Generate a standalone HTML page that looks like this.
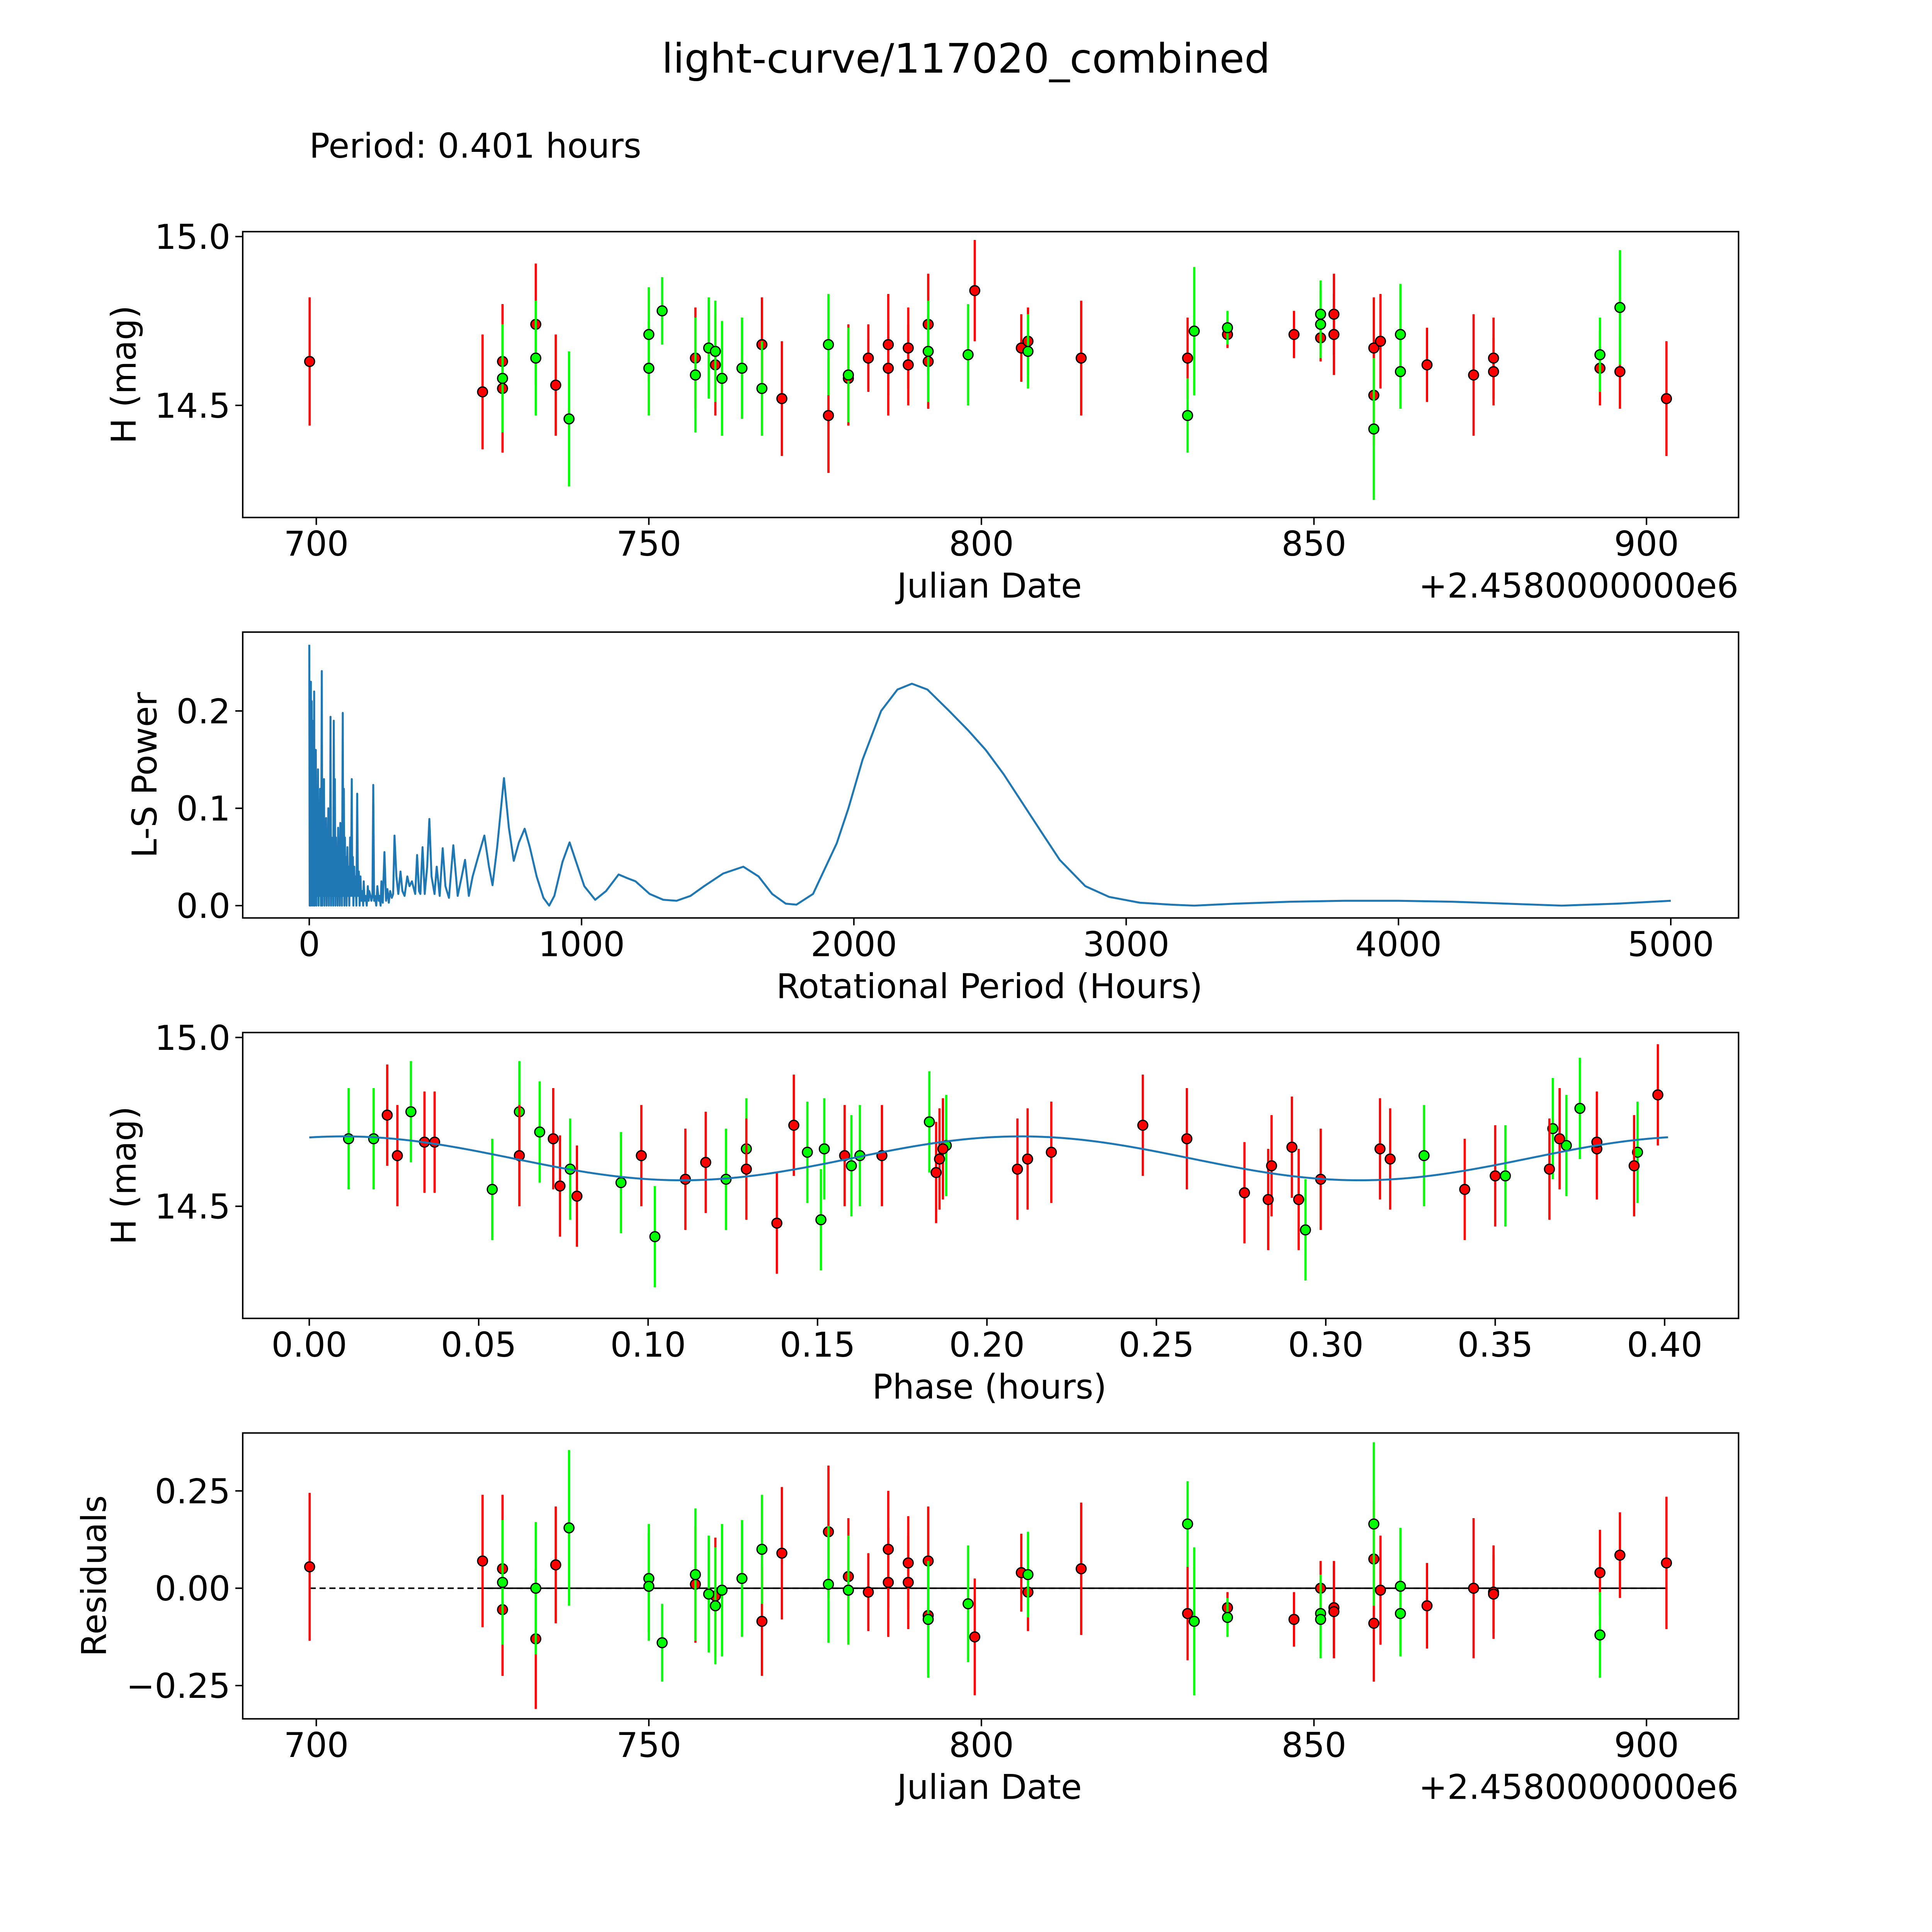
<!DOCTYPE html>
<html><head><meta charset="utf-8"><style>
html,body{margin:0;padding:0;background:#fff;width:100vw;height:100vh;overflow:hidden}
svg{display:block;position:absolute;left:0;top:0;width:100vw;height:100vh}
text{font-family:"DejaVu Sans","Liberation Sans",sans-serif;fill:#000}
</style></head><body>
<svg id="chart" viewBox="0 0 1568 1568" preserveAspectRatio="none" xmlns="http://www.w3.org/2000/svg">
<rect width="1568" height="1568" fill="#fff"/>
<text x="784" y="59" font-size="33" text-anchor="middle">light-curve/117020_combined</text>
<text x="251" y="128" font-size="27.6">Period: 0.401 hours</text>
</svg>
<script>
// ---- data: light curve (Julian date offset, magnitude, error) ----
const redJD  = [699,725,728,728,733,736,757,760,767,770,777,780,780,783,786,786,789,789,792,792,799,806,807,815,831,837,847,851,853,853,859,859,860,867,874,877,877,893,896,903];
const redMag = [14.63,14.54,14.55,14.63,14.74,14.56,14.64,14.62,14.68,14.52,14.47,14.59,14.58,14.64,14.68,14.61,14.62,14.67,14.63,14.74,14.84,14.67,14.69,14.64,14.64,14.71,14.71,14.70,14.71,14.77,14.53,14.67,14.69,14.62,14.59,14.64,14.60,14.61,14.60,14.52];
const redErr = [0.19,0.17,0.19,0.17,0.18,0.15,0.15,0.15,0.14,0.17,0.17,0.15,0.14,0.1,0.15,0.14,0.12,0.12,0.14,0.15,0.15,0.1,0.1,0.17,0.12,0.04,0.07,0.07,0.12,0.12,0.15,0.15,0.14,0.11,0.18,0.12,0.1,0.11,0.11,0.17];
const grnJD  = [728,733,738,750,750,752,757,759,760,761,764,767,777,780,792,798,807,831,832,837,851,851,859,863,863,893,896];
const grnMag = [14.58,14.64,14.46,14.71,14.61,14.78,14.59,14.67,14.66,14.58,14.61,14.55,14.68,14.59,14.66,14.65,14.66,14.47,14.72,14.73,14.77,14.74,14.43,14.71,14.60,14.65,14.79];
const grnErr = [0.16,0.17,0.2,0.14,0.14,0.1,0.17,0.15,0.15,0.17,0.15,0.14,0.15,0.14,0.15,0.15,0.11,0.11,0.19,0.05,0.1,0.1,0.21,0.15,0.11,0.11,0.17];
// ---- data: phase-folded ----
const grnPhase = [0.0116,0.019,0.030,0.054,0.062,0.068,0.077,0.092,0.102,0.123,0.129,0.147,0.151,0.152,0.160,0.1625,0.183,0.188,0.294,0.329,0.353,0.367,0.371,0.375,0.392];
const grnPMag  = [14.70,14.70,14.78,14.55,14.78,14.72,14.61,14.57,14.41,14.58,14.67,14.66,14.46,14.67,14.62,14.65,14.75,14.68,14.43,14.65,14.59,14.73,14.68,14.79,14.66];
const redPhase = [0.023,0.026,0.034,0.037,0.062,0.072,0.074,0.079,0.098,0.111,0.117,0.129,0.138,0.143,0.158,0.169,0.185,0.186,0.187,0.209,0.212,0.219,0.246,0.259,0.276,0.283,0.284,0.290,0.292,0.2985,0.316,0.319,0.341,0.350,0.366,0.369,0.380,0.380,0.391,0.398];
const redPMag  = [14.77,14.65,14.69,14.69,14.65,14.70,14.56,14.53,14.65,14.58,14.63,14.61,14.45,14.74,14.65,14.65,14.60,14.64,14.67,14.61,14.64,14.66,14.74,14.70,14.54,14.52,14.62,14.675,14.52,14.58,14.67,14.64,14.55,14.59,14.61,14.70,14.67,14.69,14.62,14.83];
const modelMean = 14.642, modelAmp = 0.065, modelPeak = 0.01, modelHalfPeriod = 0.2;
// ---- data: residuals ----
const redRes = [0.055,0.07,0.05,-0.055,-0.13,0.06,0.01,-0.02,-0.085,0.09,0.145,0.03,-0.005,-0.01,0.10,0.015,0.065,0.015,0.07,-0.07,-0.125,0.04,-0.01,0.05,-0.065,-0.05,-0.08,0.0,-0.05,-0.06,0.075,-0.09,-0.005,-0.045,0.0,-0.01,-0.015,0.04,0.085,0.065];
const grnRes = [0.015,0.0,0.155,0.025,0.005,-0.14,0.035,-0.015,-0.045,-0.005,0.025,0.10,0.01,-0.005,-0.08,-0.04,0.035,0.165,-0.085,-0.075,-0.065,-0.08,0.165,0.005,-0.065,-0.12];
// ---- data: periodogram as [period hours, power] ----
const lsNoise = [[0,0.268],[1.5,0],[3,0.2],[4.5,0],[6,0.23],[7.5,0.01],[9,0.21],[10.5,0],[12,0.19],[13.5,0.02],[15,0.18],[16.5,0],[18,0.22],[19.5,0],[21,0.15],[22.5,0.01],[24,0.16],[26,0],[28,0.12],[30,0.01],[32,0.14],[34,0],[36,0.1],[38,0.01],[40,0.12],[43,0],[46,0.241],[48,0],[50,0.11],[52,0.01],[54,0.13],[56,0],[58,0.08],[60,0.01],[62,0.09],[64,0],[66,0.07],[68,0.01],[70,0.1],[72,0],[74,0.09],[76,0.01],[78,0.194],[80,0],[82,0.07],[84,0.01],[86,0.06],[88,0],[90,0.19],[92,0.01],[94,0.13],[96,0],[98,0.07],[100,0.01],[102,0.05],[104,0],[106,0.08],[108,0.01],[110,0.05],[112,0],[114,0.085],[116,0.01],[118,0.07],[120,0],[123,0.198],[125,0.01],[127,0.12],[129,0],[131,0.07],[133,0.01],[135,0.05],[137,0],[140,0.06],[142,0.01],[145,0.04],[147,0],[150,0.07],[153,0.01],[156,0.13],[158,0.01],[160,0.05],[162,0],[165,0.04],[167,0.01],[170,0.03],[173,0],[176,0.115],[179,0.01],[182,0.035],[185,0],[188,0.03],[191,0.005],[195,0.015],[198,0],[200,0.025],[203,0.005],[207,0.01],[211,0],[215,0.02],[218,0.005],[220,0.015],[225,0.01],[228,0.005],[232,0.01],[235,0.124],[238,0.005],[241,0.01],[246,0],[250,0.02],[255,0.005],[258,0.01],[262,0],[265,0.025],[270,0.003],[276,0.055],[282,0.005],[287,0.017],[292,0.003],[297,0.015],[303,0.008],[308,0.012]];
const lsSmooth = [[313,0.072],[320,0.03],[327,0.012],[335,0.035],[342,0.015],[350,0.01],[360,0.03],[368,0.02],[377,0.025],[389,0.012],[396,0.052],[403,0.015],[408,0.012],[416,0.06],[424,0.012],[433,0.04],[441,0.089],[449,0.03],[460,0.012],[468,0.04],[479,0.01],[490,0.059],[500,0.02],[513,0.008],[529,0.062],[545,0.01],[560,0.03],[572,0.047],[586,0.01],[600,0.03],[620,0.05],[643,0.072],[660,0.04],[673,0.021],[690,0.06],[715,0.131],[733,0.08],[751,0.046],[770,0.065],[791,0.079],[810,0.06],[835,0.03],[860,0.008],[881,0.0],[900,0.01],[930,0.045],[956,0.065],[980,0.045],[1010,0.02],[1050,0.006],[1090,0.015],[1136,0.032],[1170,0.028],[1198,0.025],[1250,0.012],[1300,0.006],[1349,0.005],[1400,0.01],[1450,0.02],[1520,0.033],[1594,0.04],[1650,0.03],[1700,0.012],[1750,0.002],[1789,0.001],[1850,0.012],[1937,0.064],[1980,0.1],[2032,0.15],[2100,0.2],[2160,0.222],[2213,0.228],[2270,0.222],[2350,0.2],[2420,0.18],[2484,0.16],[2550,0.135],[2620,0.105],[2690,0.075],[2756,0.047],[2850,0.02],[2937,0.009],[3050,0.003],[3163,0.001],[3250,0.0],[3400,0.002],[3600,0.004],[3800,0.005],[4000,0.005],[4200,0.004],[4400,0.002],[4600,0.0],[4800,0.002],[5000,0.005]];

const NS='http://www.w3.org/2000/svg';
const svg=document.getElementById('chart');
function mk(tag,attrs,parent){const e=document.createElementNS(NS,tag);for(const k in attrs)e.setAttribute(k,attrs[k]);(parent||svg).appendChild(e);return e;}
function lin(d0,d1,p0,p1){return v=>p0+(v-d0)*(p1-p0)/(d1-d0);}
const FS=27.6;
function frame(name,pt,xs,xTicks,xFmt,ys,yTicks,yFmt,xlabel,ylabel,ylabelX,offset){
  const g=mk('g',{});
  
  
  xTicks.forEach(t=>{const x=xs(t);
    const l=mk('line',{x1:x,x2:x,y1:pt+232,y2:pt+238,stroke:'#000','stroke-width':1.2},g);
    
    const tx=mk('text',{x:x,y:pt+263,'font-size':FS,'text-anchor':'middle'},g);tx.textContent=xFmt(t);
    });
  yTicks.forEach(t=>{const y=ys(t);
    const l=mk('line',{x1:191,x2:197,y1:y,y2:y,stroke:'#000','stroke-width':1.2},g);
    
    const tx=mk('text',{x:187,y:y+10,'font-size':FS,'text-anchor':'end'},g);tx.textContent=yFmt(t);
    });
  const xl=mk('text',{x:803,y:pt+297,'font-size':FS,'text-anchor':'middle'},g);xl.textContent=xlabel;
  
  const yl=mk('text',{x:0,y:0,'font-size':FS,'text-anchor':'middle',transform:`translate(${ylabelX},${pt+116}) rotate(-90)`},g);yl.textContent=ylabel;
  
  if(offset){const o=mk('text',{x:1411,y:pt+297,'font-size':FS,'text-anchor':'end'},g);o.textContent=offset;
    }
  return g;
}
function border(pt){const r=mk('rect',{x:197,y:pt,width:1214,height:232,fill:'none',stroke:'#000','stroke-width':1.2});
  }
function points(xsArr,ysArr,errs,xs,ys,color,name){
  xsArr.forEach((v,i)=>{const x=xs(v);const e=Array.isArray(errs)?errs[i]:errs;
    const b=mk('line',{x1:x,x2:x,y1:ys(ysArr[i]-e),y2:ys(ysArr[i]+e),stroke:color,'stroke-width':1.8});
    });
  xsArr.forEach((v,i)=>{const c=mk('circle',{cx:xs(v),cy:ys(ysArr[i]),r:4,fill:color,stroke:'#000','stroke-width':1});
    });
}
const fmt2=t=>t.toFixed(2), fmt1=t=>t.toFixed(1), fmt0=t=>String(t);
const jdX=lin(700,900,256.7,1336.3);

// Panel 1
let panelTop=188;
const y1=lin(14.5,15.0,329,192);
frame('light-curve-axes',panelTop,jdX,[700,750,800,850,900],fmt0,y1,[14.5,15.0],fmt1,'Julian Date','H (mag)',110,'+2.4580000000e6');
points(redJD,redMag,redErr,jdX,y1,'#ff0000','red-filter');
points(grnJD,grnMag,grnErr,jdX,y1,'#00ff00','green-filter');
border(panelTop);

// Panel 2
panelTop=513;
const px=lin(0,5000,251,1356), py=lin(0,0.2,735,577);
frame('periodogram-axes',panelTop,px,[0,1000,2000,3000,4000,5000],fmt0,py,[0,0.1,0.2],fmt1,'Rotational Period (Hours)','L-S Power',127);
const lsAll=lsNoise.concat(lsSmooth);
const pl=mk('polyline',{points:lsAll.map(d=>px(d[0])+','+py(d[1])).join(' '),fill:'none',stroke:'#1f77b4','stroke-width':1.6,'stroke-linejoin':'round'});


border(panelTop);

// Panel 3
panelTop=838;
const phx=lin(0,0.4,251,1351), phy=lin(14.5,15.0,979,842);
frame('phase-axes',panelTop,phx,[0,0.05,0.1,0.15,0.2,0.25,0.3,0.35,0.4],fmt2,phy,[14.5,15.0],fmt1,'Phase (hours)','H (mag)',110);
points(grnPhase,grnPMag,0.15,phx,phy,'#00ff00','green-phase');
points(redPhase,redPMag,0.15,phx,phy,'#ff0000','red-phase');
const mpts=[];for(let i=0;i<=200;i++){const p=0.401*i/200;mpts.push(phx(p)+','+phy(modelMean+modelAmp*Math.cos(2*Math.PI*(p-modelPeak)/modelHalfPeriod)));}
const ml=mk('polyline',{points:mpts.join(' '),fill:'none',stroke:'#1f77b4','stroke-width':1.6});


border(panelTop);

// Panel 4
panelTop=1163;
const ry=lin(0,0.25,1289,1210);
frame('residuals-axes',panelTop,jdX,[700,750,800,850,900],fmt0,ry,[-0.25,0,0.25],t=>(t<0?'\u22120.25':t.toFixed(2)),'Julian Date','Residuals',86,'+2.4580000000e6');
const zl=mk('line',{x1:jdX(699),x2:jdX(903),y1:ry(0),y2:ry(0),stroke:'#000','stroke-width':1.2,'stroke-dasharray':'5,3'});


const zs=mk('line',{x1:jdX(725),x2:jdX(903),y1:ry(0),y2:ry(0),stroke:'#000','stroke-width':1.2});


points(redJD,redRes,redErr,jdX,ry,'#ff0000','red-residual');
points(grnJD.slice(0,grnRes.length),grnRes,grnErr,jdX,ry,'#00ff00','green-residual');
border(panelTop);
</script>
</body></html>
